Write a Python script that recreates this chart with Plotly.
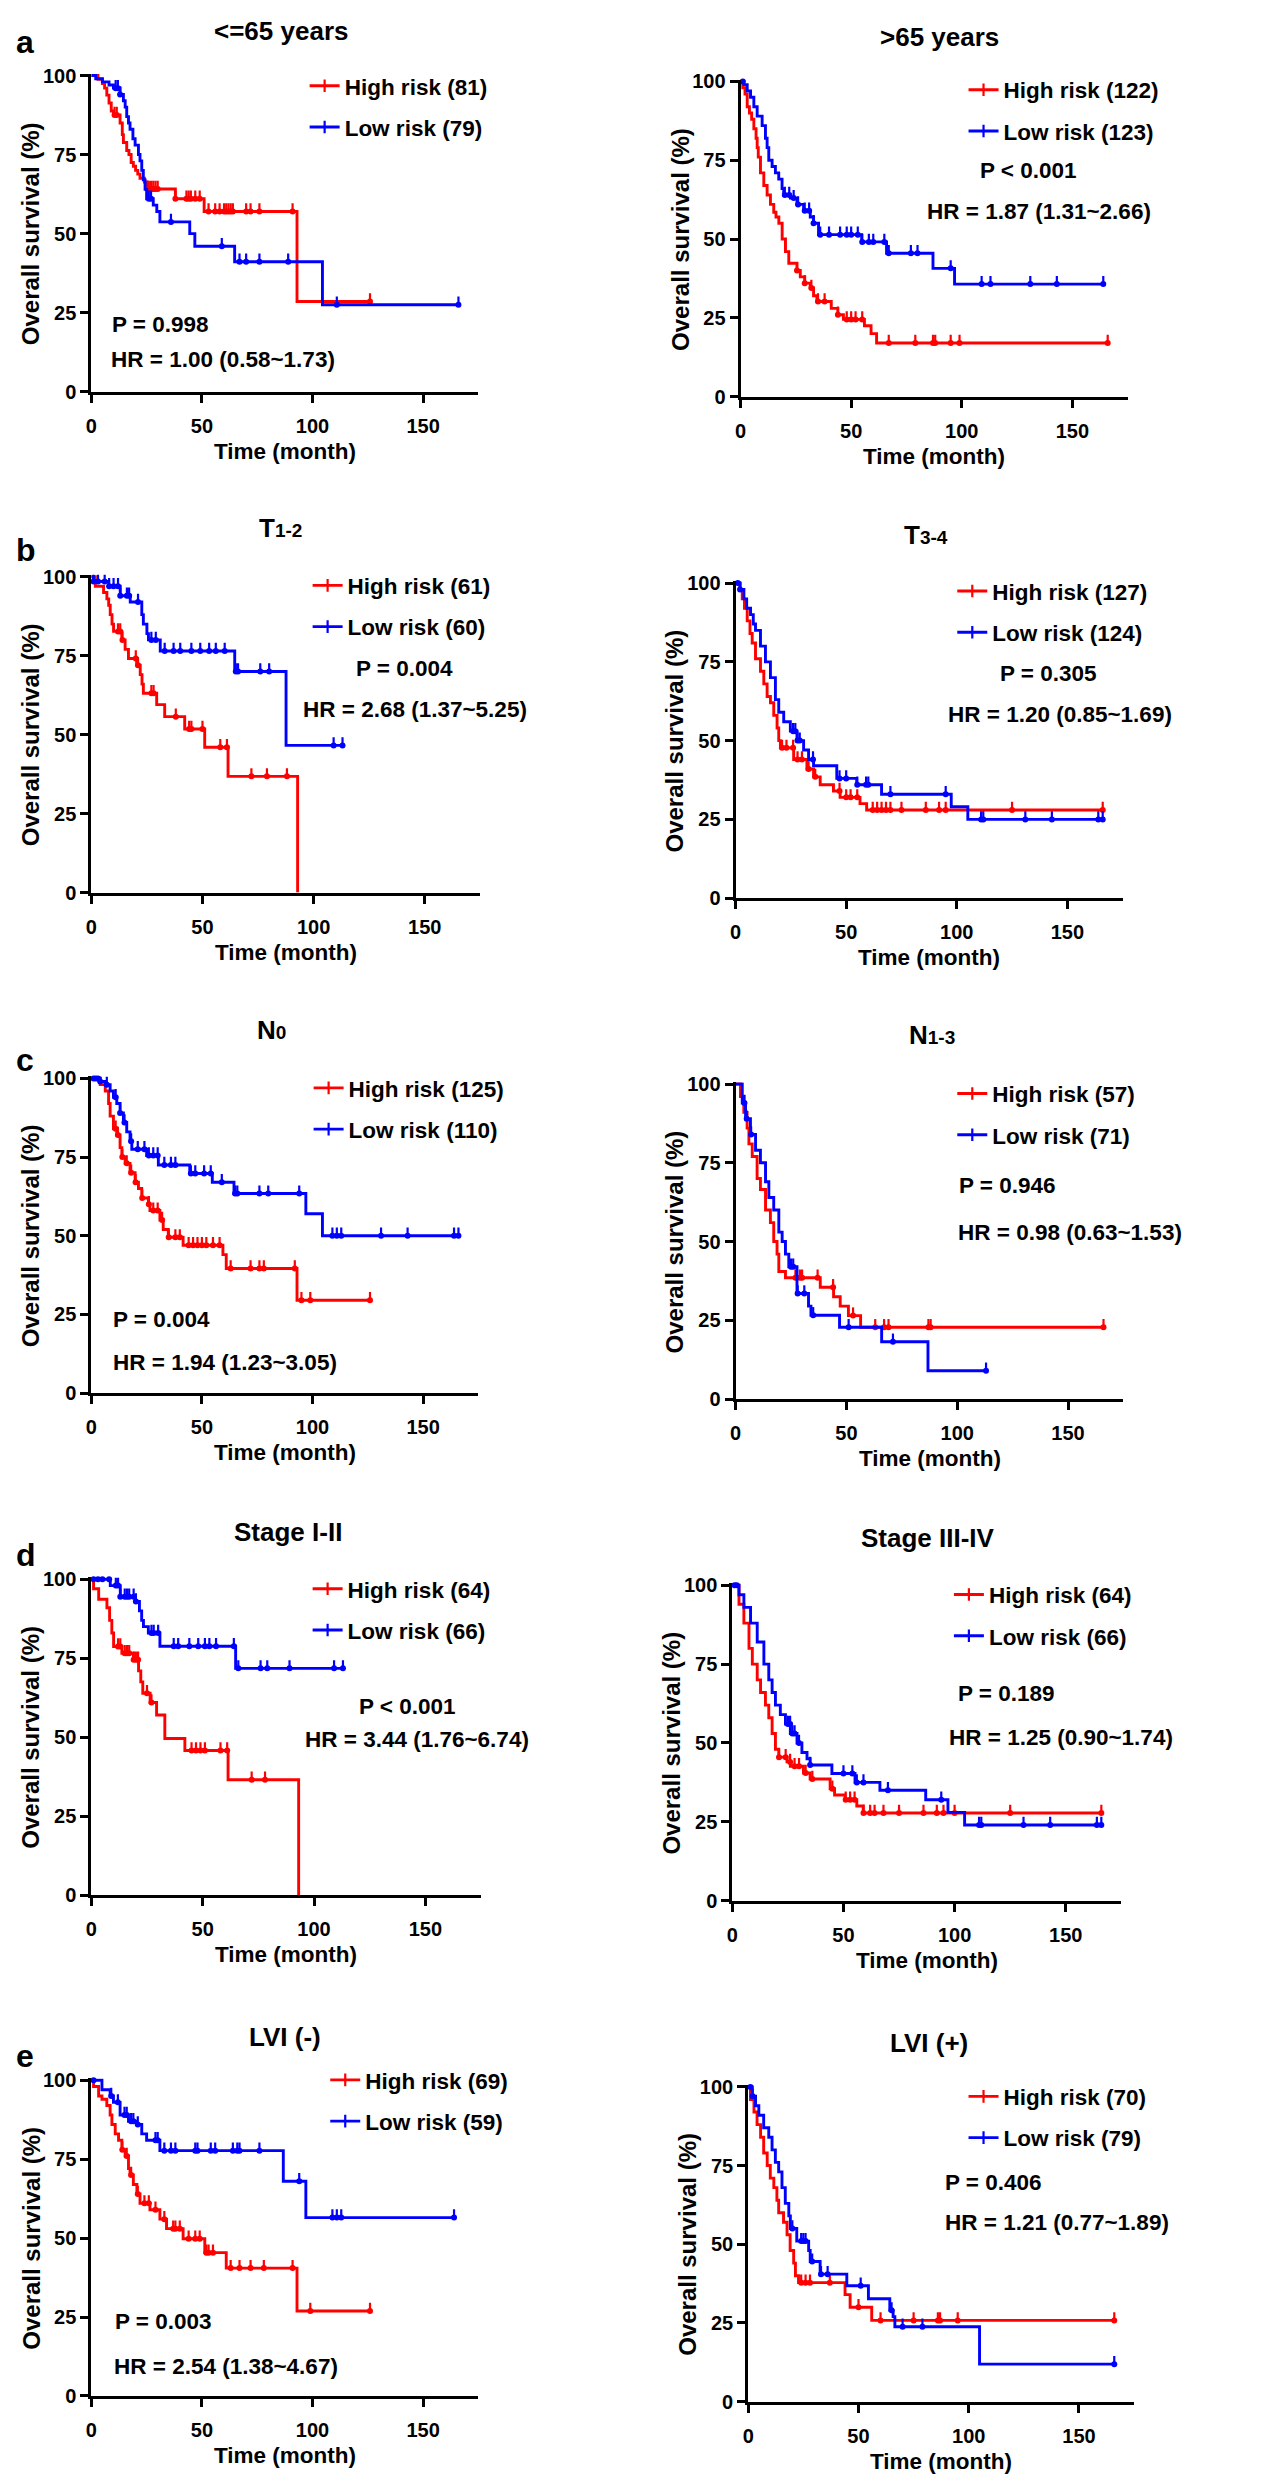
import plotly.graph_objects as go

FONT = "Liberation Sans, Arial, sans-serif"
RED = "rgb(255,0,0)"
BLUE = "rgb(0,0,255)"

# ---------------- data (time in months, survival in %) ----------------
# a: <=65 years
a1_high_t = [0, 3, 5, 6, 7, 8, 9, 10, 13, 14, 14.5, 16, 17, 18, 19, 20, 21, 22, 24, 25, 38, 51, 93]
a1_high_s = [100, 98.8, 97.5, 96, 93.8, 91.3, 88.8, 87.5, 85, 81.3, 78.8, 76.3, 75, 72.5, 71.3, 70, 68.8, 67.5, 66.3, 64.1, 61, 57, 28.5]
a1_high_c = [10.5, 11.5, 25.5, 26, 27, 28, 29, 30, 38, 43, 44, 45, 47, 49, 53, 56, 58, 60, 61, 62, 63, 64, 70, 72, 76, 91, 126]
a1_low_t = [0, 2, 5, 8, 10, 13, 14.5, 15.3, 16, 16.8, 17.5, 18.8, 19.8, 21.3, 22, 22.8, 23.5, 24.3, 25, 28, 29.6, 31, 44.5, 46.8, 64.8, 104.5]
a1_low_s = [100, 99, 98, 97, 96, 94, 92, 90, 87, 85, 83, 80, 78, 75, 73, 70, 67, 64, 61, 59, 57, 53.7, 50, 46, 41.1, 27.5]
a1_low_c = [11, 12, 13, 26, 27, 36, 59, 67, 70, 76, 89, 111, 166]

# a: >65 years
a2_high_t = [0, 1, 2, 3, 4, 5, 6, 7, 7.5, 8, 9, 10.5, 12, 13.5, 15, 16, 17.3, 18.8, 20.3, 21.8, 25.5, 27, 29, 31.5, 33, 34.5, 41, 44, 46.5, 56, 59, 61.5]
a2_high_s = [100, 98, 96, 92, 90, 88, 85, 82, 79, 76, 71, 67, 64, 61, 58.5, 57, 55, 50, 46, 42.3, 40, 38, 36, 34.5, 32, 30.2, 28, 26, 24.5, 22.5, 20, 17]
a2_high_c = [25.5, 29, 32, 35, 38, 44, 48, 50, 52, 55, 67, 79, 87, 88, 95, 99, 166]
a2_low_t = [0, 1.5, 3, 4.5, 6, 7.5, 9.75, 11.25, 12, 12.75, 14.25, 15.75, 17.25, 18.75, 19.5, 22.5, 25.5, 28.5, 31.5, 33, 35.25, 54.75, 66, 87, 96.75]
a2_low_s = [100, 99, 97, 95, 92, 89, 86, 82, 79, 75, 73, 71, 69, 66, 64, 63, 61, 59, 57, 55, 51.4, 49.1, 45.5, 40.7, 35.7]
a2_low_c = [1, 20, 22, 24, 26, 29, 31, 33, 36, 40, 45, 48, 50, 53, 55, 58, 60, 65, 67, 77, 80, 95, 109, 113, 131, 143, 164]

# b: T1-2
b1_high_t = [0, 1.8, 5.5, 7, 7.8, 8.5, 9.3, 10, 13.7, 15.2, 16.7, 20.4, 22, 22.8, 23.4, 29.4, 33, 42, 51, 61.5, 92.8]
b1_high_s = [100, 97, 95, 93, 91, 88, 85, 82.7, 80, 77, 74.1, 72, 69, 66, 63.1, 59.5, 55.7, 51.8, 46, 36.8, 0]
b1_high_c = [12, 13, 14, 20, 21, 27, 28, 38, 44, 45, 50, 58, 61, 72, 79, 88]
b1_low_t = [0, 1, 7.8, 13, 17.5, 22.7, 23.4, 25, 25.7, 31, 64.5, 87.6]
b1_low_s = [100, 98.5, 97, 94, 92, 88, 85, 82, 80, 76.5, 70, 46.6]
b1_low_c = [1, 3, 6, 8, 10, 12, 13, 16, 17, 21, 27, 29, 33, 37, 40, 45, 49, 53, 56, 60, 65, 66, 76, 80, 109, 113]

# b: T3-4
b2_high_t = [0, 2, 3, 4, 5.25, 6.5, 7.5, 9, 11.25, 12.75, 14.25, 15.75, 17.25, 18.75, 19.5, 20.25, 26.25, 32.25, 35.25, 38.25, 44.25, 47.25, 56.25, 59.25]
b2_high_s = [100, 98, 95, 92, 88, 84, 81, 76, 72, 68, 64, 62, 58, 54, 50, 47.7, 44, 41, 38.5, 36, 34, 32, 30, 28]
b2_high_c = [21, 23, 26, 28, 30, 33, 36, 47, 50, 52, 55, 62, 64, 66, 68, 70, 75, 86, 92, 95, 125, 166]
b2_low_t = [0, 2, 3.75, 5, 6.75, 8, 9, 11.25, 13.5, 15.75, 18, 19.5, 21.75, 24.75, 27.75, 30.75, 33, 35.25, 45.75, 54.75, 66, 97.5, 105]
b2_low_s = [100, 98, 95, 92, 90, 87, 85, 80, 75, 70, 63, 59, 56, 53, 50, 47, 44, 42, 38, 36, 33, 29, 25]
b2_low_c = [1, 2, 26, 27, 28, 29, 35, 47, 50, 55, 59, 60, 70, 95, 111, 112, 131, 143, 164, 166]

# c: N0
c1_high_t = [0, 4, 6.3, 7.8, 8.5, 10, 11.5, 13, 13.8, 15.3, 17.5, 19.8, 21.3, 22.8, 25.8, 26.5, 31, 32.5, 34.8, 41.5, 59.5, 61, 93]
c1_high_s = [100, 98, 96, 92, 88, 84, 82, 78, 75, 73, 70, 67, 65, 62, 60, 58, 55, 52, 49.5, 47, 44, 39.6, 29.5]
c1_high_c = [11, 12, 14, 16, 18, 20, 23, 26, 28, 30, 32, 35, 38, 40, 44, 46, 48, 50, 52, 55, 58, 63, 72, 76, 78, 92, 95, 99, 126]
c1_low_t = [0, 4, 6.3, 8.5, 10, 11.5, 13, 14.5, 16, 17.5, 18.3, 25, 30.3, 44.5, 54.7, 64.5, 97, 104.5]
c1_low_s = [100, 99, 98, 96, 94, 92, 89, 86, 83, 80, 77.5, 75.5, 72.5, 69.8, 67, 63.4, 57, 50]
c1_low_c = [1, 2, 3, 4, 7, 11, 13, 15, 18, 21, 24, 26, 28, 30, 33, 36, 38, 45, 47, 51, 54, 59, 65, 66, 76, 80, 94, 109, 111, 113, 131, 143, 164, 166]

# c: N1-3
c2_high_t = [0, 2.2, 3.7, 5.2, 6, 7.5, 9.7, 11.2, 13.5, 15.7, 17.2, 18.7, 19.5, 22.5, 38.2, 44.2, 47.2, 50.9, 56.4]
c2_high_s = [100, 96, 91, 86, 81, 77, 70, 66.5, 60, 56, 50, 46, 40.5, 38.5, 35.5, 32.5, 29.5, 26.5, 22.8]
c2_high_c = [27, 29, 30, 37, 44, 53, 63, 67, 69, 87, 88, 166]
c2_low_t = [0, 3, 4.5, 6.7, 9, 11.2, 13.5, 15, 17.2, 19.5, 21, 22.5, 24, 27.7, 32.9, 34, 46.9, 65.9, 86.8]
c2_low_s = [100, 94, 89, 84, 79, 75, 69, 64, 60, 53, 50, 46, 42, 33.5, 29.5, 26.6, 22.8, 18.2, 9]
c2_low_c = [4, 5, 7, 25, 26, 28, 31, 35, 51, 71, 113]

# d: Stage I-II
d1_high_t = [0, 1, 3.3, 7, 8.2, 9.2, 10, 13.7, 18.9, 21.2, 22.2, 23.1, 26.4, 29.3, 33, 42, 61.4, 93.1]
d1_high_s = [100, 97, 93.7, 91, 87, 83, 78.7, 76.6, 74.5, 71, 67.5, 63.9, 61, 57, 49.6, 45.8, 36.5, 0]
d1_high_c = [12, 13, 15, 16, 17, 19, 20, 21, 25, 27, 45, 47, 49, 51, 58, 61, 72, 78]
d1_low_t = [0, 8.5, 13, 19.7, 21.6, 22.6, 23.4, 25.6, 30.8, 64.8]
d1_low_s = [100, 98, 94.5, 93, 90, 87, 85, 83, 78.8, 71.8]
d1_low_c = [1, 3, 5, 8, 11, 12, 13, 15, 16, 17, 19, 20, 27, 28, 30, 37, 39, 44, 48, 51, 53, 56, 64, 66, 76, 79, 89, 109, 113]

# d: Stage III-IV
d2_high_t = [0, 3, 5.2, 7.5, 9, 11.2, 12.7, 14.9, 16.4, 17.9, 19.4, 20.9, 24.6, 26.1, 32, 35, 44, 46, 50.7, 56, 58.9]
d2_high_s = [100, 94, 88, 80, 75, 70, 66, 62, 58, 53, 48, 45.5, 44, 42.6, 40.5, 38.6, 35.5, 33.5, 32, 30, 27.8]
d2_high_c = [21, 24, 26, 28, 30, 33, 36, 45, 51, 53, 55, 59, 62, 64, 68, 75, 86, 92, 95, 100, 125, 166]
d2_low_t = [0, 3, 5.2, 8.2, 11.2, 14.2, 16.4, 17.9, 19.4, 21.6, 23.9, 26.1, 29.1, 31.3, 33.6, 35, 44.8, 55.2, 66.4, 87, 97, 104.5]
d2_low_s = [100, 97, 93, 88, 82, 75, 70, 66, 62, 59, 56, 53, 50, 47, 45, 43, 40.3, 37.5, 35, 32, 28, 24]
d2_low_c = [1, 2, 25, 26, 27, 28, 30, 35, 50, 54, 56, 59, 70, 94, 111, 112, 131, 143, 164, 166]

# e: LVI (-)
e1_high_t = [0, 1, 3.3, 4.8, 7, 8.5, 9.3, 10.8, 12.3, 13.8, 15.3, 16.8, 17.5, 19, 20.6, 22, 26.5, 31, 34, 41.5, 51.3, 61, 93]
e1_high_s = [100, 98, 95, 94, 92, 89, 86, 83, 81, 78, 76, 72, 70, 67, 64, 61, 59, 56, 53, 49.8, 45.4, 40.5, 26.9]
e1_high_c = [14, 16, 18, 21, 24, 26, 29, 33, 37, 38, 40, 44, 47, 49, 52, 53, 55, 63, 67, 72, 78, 91, 99, 126]
e1_low_t = [0, 4.8, 8.5, 10, 13, 16.8, 20.6, 22.8, 25, 31, 86.8, 97]
e1_low_s = [100, 97, 95, 93, 89, 87, 86, 83, 81, 77.7, 68, 56.5]
e1_low_c = [1, 9, 12, 15, 16, 18, 19, 21, 29, 30, 33, 36, 38, 47, 48, 54, 56, 64, 66, 67, 76, 94, 109, 111, 113, 164]

# e: LVI (+)
e2_high_t = [0, 1, 2.6, 4, 5.6, 7, 8.6, 10, 11.6, 13, 13.8, 16, 17.6, 19, 20.6, 21.4, 22.8, 43.9, 46.2, 56]
e2_high_s = [100, 96, 92, 88, 84, 79, 75, 71, 68, 64, 60, 57, 53, 48, 44, 40, 37.8, 34, 30, 25.8]
e2_high_c = [24, 26, 28, 37, 50, 60, 75, 86, 87, 95, 166]
e2_low_t = [0, 1.8, 3.3, 4.8, 7, 9.3, 10.8, 12.3, 13.8, 15.3, 16.8, 18.4, 19.1, 22, 27.4, 28.1, 32.6, 44.7, 54.5, 64.2, 65.7, 66.5, 104.9]
e2_low_s = [100, 97, 94, 91, 87, 84, 80, 76, 73, 68, 63, 59, 55, 51, 48, 44.5, 40.5, 36.8, 32.7, 29, 27, 23.8, 11.9]
e2_low_c = [1, 2, 20, 24, 25, 26, 29, 33, 36, 51, 65, 70, 79, 166]

panel_titles = ["&lt;=65 years", "&gt;65 years",
                "T<span style='font-size:19px'>1-2</span>", "T<span style='font-size:19px'>3-4</span>",
                "N<span style='font-size:19px'>0</span>", "N<span style='font-size:19px'>1-3</span>",
                "Stage I-II", "Stage III-IV", "LVI (-)", "LVI (+)"]
high_n = [81, 122, 61, 127, 125, 57, 64, 64, 69, 70]
low_n = [79, 123, 60, 124, 110, 71, 66, 66, 59, 79]
p_text = ["P = 0.998", "P &lt; 0.001", "P = 0.004", "P = 0.305", "P = 0.004",
          "P = 0.946", "P &lt; 0.001", "P = 0.189", "P = 0.003", "P = 0.406"]
hr_text = ["HR = 1.00 (0.58~1.73)", "HR = 1.87 (1.31~2.66)", "HR = 2.68 (1.37~5.25)",
           "HR = 1.20 (0.85~1.69)", "HR = 1.94 (1.23~3.05)", "HR = 0.98 (0.63~1.53)",
           "HR = 3.44 (1.76~6.74)", "HR = 1.25 (0.90~1.74)", "HR = 2.54 (1.38~4.67)",
           "HR = 1.21 (0.77~1.89)"]
panel_letters = ["a", "b", "c", "d", "e"]

curves = [
    ((a1_high_t, a1_high_s, a1_high_c), (a1_low_t, a1_low_s, a1_low_c)),
    ((a2_high_t, a2_high_s, a2_high_c), (a2_low_t, a2_low_s, a2_low_c)),
    ((b1_high_t, b1_high_s, b1_high_c), (b1_low_t, b1_low_s, b1_low_c)),
    ((b2_high_t, b2_high_s, b2_high_c), (b2_low_t, b2_low_s, b2_low_c)),
    ((c1_high_t, c1_high_s, c1_high_c), (c1_low_t, c1_low_s, c1_low_c)),
    ((c2_high_t, c2_high_s, c2_high_c), (c2_low_t, c2_low_s, c2_low_c)),
    ((d1_high_t, d1_high_s, d1_high_c), (d1_low_t, d1_low_s, d1_low_c)),
    ((d2_high_t, d2_high_s, d2_high_c), (d2_low_t, d2_low_s, d2_low_c)),
    ((e1_high_t, e1_high_s, e1_high_c), (e1_low_t, e1_low_s, e1_low_c)),
    ((e2_high_t, e2_high_s, e2_high_c), (e2_low_t, e2_low_s, e2_low_c)),
]

# ---------------- layout geometry (pixels in the 1281x2481 page) ----------------
W, H = 1281, 2481
# x of month 0, x of month 150, y of 100 %, y of 0 %
geom = [
    (77.7, 411.0, 59.0, 377.7), (730.0, 1063.3, 65.0, 382.7),
    (77.7, 412.7, 564.3, 882.7), (725.0, 1058.3, 570.7, 888.3),
    (77.7, 411.0, 1070.0, 1387.3), (725.0, 1059.0, 1075.7, 1393.3),
    (77.7, 413.3, 1575.0, 1893.3), (721.7, 1056.7, 1581.0, 1899.0),
    (77.7, 411.0, 2080.0, 2398.3), (737.7, 1070.0, 2086.7, 2404.0),
]
title_pos = [(268.7, 14), (930, 20), (268, 515), (916, 522.5), (259, 1021),
             (922, 1026), (275, 1527.5), (918.7, 1533), (272, 2036), (919, 2042)]
letter_y = [25, 537.5, 1051, 1550, 2056]
legend_pos = [(332, 68), (994, 72), (335, 571.7), (982.7, 577.3), (336, 1078.3),
              (982.7, 1084), (335, 1583.3), (979.3, 1589), (352.7, 2078.3), (994, 2095)]
p_pos = [(8.25, 21.2), (107.2, 71.7), (118.2, 71), (118.5, 71.4), (8.85, 23.3),
         (99.9, 67.7), (119.5, 59.7), (100.7, 65.7), (9.75, 23.6), (88.3, 69.5)]
hr_pos = [(7.8, 10.3), (83.2, 58.6), (94.3, 57.9), (95.2, 58.2), (8.85, 9.7),
          (99.6, 53), (95.2, 49.2), (96.7, 51.6), (9.3, 9.4), (88.3, 56.9)]

XMAX = 175
YTOP = 100.6
TICK_UNITS = 2.6
TXT = 22.5


def step_value(ts, ss, c):
    v = ss[0]
    for t, s in zip(ts, ss):
        if t <= c:
            v = s
    return v


fig = go.Figure()
annotations = []
layout_upd = {}

for k in range(10):
    xa = "x" if k == 0 else f"x{k + 1}"
    ya = "y" if k == 0 else f"y{k + 1}"
    lg = "legend" if k == 0 else f"legend{k + 1}"
    x0, x150, y100, y0 = geom[k]
    pxm = (x150 - x0) / 150.0
    x175 = x0 + pxm * XMAX
    pys = (y0 - y100) / 100.0
    ytop_px = y0 - pys * YTOP

    layout_upd["xaxis" if k == 0 else f"xaxis{k + 1}"] = dict(
        domain=[x0 / W, x175 / W], anchor=ya, range=[0, XMAX],
        tickvals=[0, 50, 100, 150], showline=True, linewidth=3, linecolor="black",
        ticks="outside", ticklen=8, tickwidth=3, tickcolor="black",
        showgrid=False, zeroline=False, ticklabelstandoff=6,
        tickfont=dict(family=FONT, size=20, color="black", weight="bold"))
    layout_upd["yaxis" if k == 0 else f"yaxis{k + 1}"] = dict(
        domain=[1 - y0 / H, 1 - ytop_px / H], anchor=xa, range=[0, YTOP],
        tickvals=[0, 25, 50, 75, 100], showline=True, linewidth=3, linecolor="black",
        ticks="outside", ticklen=8, tickwidth=3, tickcolor="black",
        showgrid=False, zeroline=False,
        tickfont=dict(family=FONT, size=20, color="black", weight="bold"))

    for (ts, ss, cs), color, label, n in (
            (curves[k][0], RED, "High risk", high_n[k]),
            (curves[k][1], BLUE, "Low risk", low_n[k])):
        end = max(ts[-1], max(cs))
        xs = list(ts)
        ys = list(ss)
        if end > ts[-1]:
            xs.append(end)
            ys.append(ss[-1])
        fig.add_trace(go.Scatter(
            x=xs, y=ys, mode="lines", line=dict(color=color, width=2.9, shape="hv"),
            xaxis=xa, yaxis=ya, showlegend=False, hoverinfo="skip"))
        cy = [step_value(ts, ss, c) for c in cs]
        fig.add_trace(go.Scatter(
            x=cs, y=cy, mode="markers", marker=dict(size=0, color=color),
            error_y=dict(type="data", symmetric=False, array=[TICK_UNITS] * len(cs),
                         arrayminus=[0] * len(cs), width=0, thickness=2.2, color=color),
            xaxis=xa, yaxis=ya, showlegend=False, cliponaxis=False, hoverinfo="skip"))
        # legend entry
        fig.add_trace(go.Scatter(
            x=[None], y=[None], mode="lines+markers", name=f"{label} ({n})",
            line=dict(color=color, width=2.9),
            marker=dict(symbol="line-ns", size=9, color=color, line=dict(width=2.2, color=color)),
            xaxis=xa, yaxis=ya, legend=lg, legendgroup=f"{label}{k}", showlegend=True))

    tx, tyc = legend_pos[k]
    layout_upd[lg] = dict(
        x=(tx - 40) / W, y=1 - (tyc - 20) / H, xanchor="left", yanchor="top",
        bgcolor="rgba(0,0,0,0)", borderwidth=0, tracegroupgap=9, itemwidth=30,
        font=dict(family=FONT, size=TXT, color="black", weight="bold"))

    # panel title
    cx, cyt = title_pos[k]
    annotations.append(dict(text=panel_titles[k], x=cx / W, y=1 - cyt / H, xref="paper", yref="paper",
                            xanchor="center", yanchor="middle", showarrow=False,
                            font=dict(family=FONT, size=26, color="black", weight="bold")))
    # axis titles
    annotations.append(dict(text="Time (month)", x=(x0 + x175) / 2 / W, y=1 - (y0 + 60) / H,
                            xref="paper", yref="paper", xanchor="center", yanchor="middle",
                            showarrow=False, font=dict(family=FONT, size=TXT, color="black", weight="bold")))
    annotations.append(dict(text="Overall survival (%)", x=(x0 - 61) / W, y=1 - (y100 + y0) / 2 / H,
                            xref="paper", yref="paper", xanchor="center", yanchor="middle",
                            textangle=-90, showarrow=False,
                            font=dict(family=FONT, size=24, color="black", weight="bold")))
    # statistics
    for txt, (mx, sv) in ((p_text[k], p_pos[k]), (hr_text[k], hr_pos[k])):
        annotations.append(dict(text=txt, x=mx, y=sv, xref=xa, yref=ya, xanchor="left",
                                yanchor="middle", showarrow=False,
                                font=dict(family=FONT, size=TXT, color="black", weight="bold")))

for i, letter in enumerate(panel_letters):
    annotations.append(dict(text=letter, x=0, y=1 - letter_y[i] / H, xref="paper", yref="paper",
                            xanchor="left", yanchor="middle", showarrow=False,
                            font=dict(family=FONT, size=32, color="black", weight="bold")))

fig.update_layout(
    width=W, height=H, margin=dict(l=0, r=0, t=0, b=0),
    paper_bgcolor="white", plot_bgcolor="white",
    annotations=annotations, **layout_upd)

fig.write_html("out.html")
